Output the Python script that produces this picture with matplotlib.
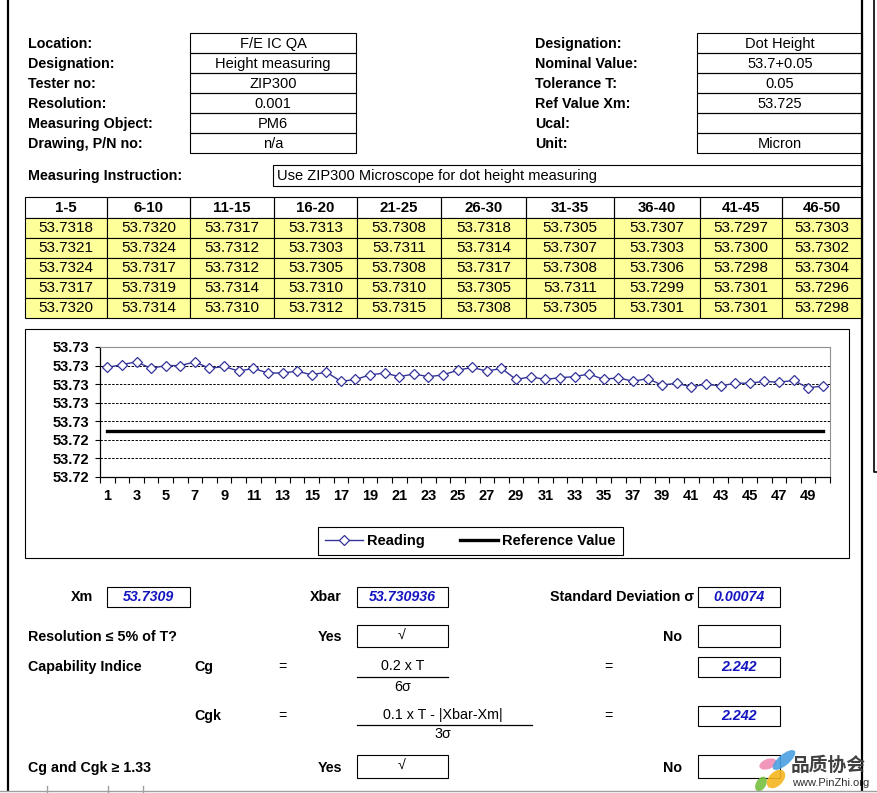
import matplotlib
matplotlib.use("Agg")
import matplotlib.pyplot as plt
from matplotlib.patches import Rectangle, Ellipse
from matplotlib.ticker import FormatStrFormatter, FixedLocator

plt.rcParams['font.family'] = ['Liberation Sans', 'DejaVu Sans']

W, H = 878, 793

# header info
left_labels = ["Location:", "Designation:", "Tester no:", "Resolution:",
               "Measuring Object:", "Drawing, P/N no:"]
left_values = ["F/E IC QA", "Height measuring", "ZIP300", "0.001", "PM6", "n/a"]
right_labels = ["Designation:", "Nominal Value:", "Tolerance T:", "Ref Value Xm:",
                "Ucal:", "Unit:"]
right_values = ["Dot Height", "53.7+0.05", "0.05", "53.725", "", "Micron"]
instruction = "Use ZIP300 Microscope for dot height measuring"

# readings, 10 groups of 5
group_labels = ["1-5", "6-10", "11-15", "16-20", "21-25",
                "26-30", "31-35", "36-40", "41-45", "46-50"]
readings = [
    53.7318, 53.7321, 53.7324, 53.7317, 53.7320,
    53.7320, 53.7324, 53.7317, 53.7319, 53.7314,
    53.7317, 53.7312, 53.7312, 53.7314, 53.7310,
    53.7313, 53.7303, 53.7305, 53.7310, 53.7312,
    53.7308, 53.7311, 53.7308, 53.7310, 53.7315,
    53.7318, 53.7314, 53.7317, 53.7305, 53.7308,
    53.7305, 53.7307, 53.7308, 53.7311, 53.7305,
    53.7307, 53.7303, 53.7306, 53.7299, 53.7301,
    53.7297, 53.7300, 53.7298, 53.7301, 53.7301,
    53.7303, 53.7302, 53.7304, 53.7296, 53.7298,
]
ref_value = 53.725
y_ticks = [53.720, 53.722, 53.724, 53.726, 53.728, 53.730, 53.732, 53.734]

# results
xm = "53.7309"
xbar = "53.730936"
sigma = "0.00074"
cg = "2.242"
cgk = "2.242"

blue = "#1414C0"
yellow = "#FFFF99"

fig = plt.figure(figsize=(W / 100, H / 100), dpi=100)
ax = fig.add_axes([0, 0, 1, 1])
ax.set_xlim(0, W)
ax.set_ylim(H, 0)
ax.axis("off")


def box(x0, y0, x1, y1, fc="none", lw=0.8):
    ax.add_patch(Rectangle((x0, y0), x1 - x0, y1 - y0, fc=fc, ec="black", lw=lw))


def txt(x, y, s, ha="left", bold=False, size=10.3, color="black", italic=False, **kw):
    ax.text(x, y, s, ha=ha, va="center", fontsize=size, color=color,
            fontweight="bold" if bold else "normal",
            fontstyle="italic" if italic else "normal", **kw)


# page frame
ax.plot([8, 8], [0, 790], color="black", lw=1.6)
ax.plot([862.5, 862.5], [0, 790], color="black", lw=1.6)
ax.plot([874, 874, 878], [0, 472, 472], color="black", lw=1.2)
ax.plot([0, 878], [791, 791], color="#a0a0a0", lw=1)
for tx in [47, 108, 143]:
    ax.plot([tx, tx], [786, 793], color="#a0a0a0", lw=1)

# header block
for i in range(6):
    y0 = 33 + 20 * i
    txt(28, y0 + 11, left_labels[i], bold=True)
    box(190, y0, 356, y0 + 20)
    txt(273, y0 + 11, left_values[i], ha="center", size=10.5)
    txt(535, y0 + 11, right_labels[i], bold=True)
    box(697, y0, 862, y0 + 20)
    txt(780, y0 + 11, right_values[i], ha="center", size=10.5)

txt(28, 176, "Measuring Instruction:", bold=True)
box(273, 165, 862, 186)
txt(277, 176, instruction, size=10.5)

# readings table
col_edges = [25, 107, 190, 274, 357, 441, 526, 614, 700, 782, 862]
row_top = 197
for c in range(10):
    x0, x1 = col_edges[c], col_edges[c + 1]
    box(x0, row_top, x1, row_top + 21)
    txt((x0 + x1) / 2, row_top + 11, group_labels[c], ha="center", bold=True, size=10.8)
    for r in range(5):
        y0 = row_top + 21 + 20 * r
        box(x0, y0, x1, y0 + 20, fc=yellow)
        txt((x0 + x1) / 2, y0 + 10.5, "%.4f" % readings[c * 5 + r], ha="center", size=11)

# chart frame
box(25, 329, 849, 558)

cax = fig.add_axes([100 / W, 1 - 477 / H, 730 / W, 130 / H])
xs = list(range(1, len(readings) + 1))
l1, = cax.plot(xs, readings, color="#333399", lw=1, marker="D", ms=4.8,
               mfc="white", mec="#333399", mew=0.9, zorder=3)
l2, = cax.plot(xs, [ref_value] * len(readings), color="black", lw=2.4, zorder=2)
cax.set_xlim(0.5, len(readings) + 0.5)
cax.set_ylim(y_ticks[0], y_ticks[-1])
cax.yaxis.set_major_locator(FixedLocator(y_ticks))
cax.yaxis.set_major_formatter(FormatStrFormatter("%.2f"))
cax.set_xticks(xs[::2])
cax.set_xticks([x + 0.5 for x in range(0, len(readings) + 1)], minor=True)
cax.tick_params(axis="x", which="major", length=0, pad=9, labelsize=10.5)
cax.tick_params(axis="x", which="minor", length=4, direction="out", width=0.8)
cax.tick_params(axis="y", length=3.5, width=0.8, pad=4, labelsize=10.5)
for lab in cax.get_xticklabels() + cax.get_yticklabels():
    lab.set_fontweight("bold")
for t in y_ticks[1:-1]:
    cax.axhline(t, color="black", lw=0.7, ls=(0, (2.5, 1.5)), zorder=1)
cax.spines["top"].set_color("#909090")
cax.spines["right"].set_color("#909090")
cax.spines["left"].set_linewidth(0.9)
cax.spines["bottom"].set_linewidth(0.9)

leg = fig.legend([l1, l2], ["Reading", "Reference Value"], loc="center",
                 bbox_to_anchor=(470.5 / W, 1 - 541 / H), ncol=2, frameon=True,
                 fancybox=False, edgecolor="black", framealpha=1,
                 prop={"weight": "bold", "size": 10.5}, handlelength=2.6,
                 columnspacing=2.4, borderpad=0.5, handletextpad=0.3)
leg.get_frame().set_linewidth(0.8)

# results block
txt(82, 597, "Xm", ha="center", bold=True)
box(107, 587, 190, 607)
txt(148, 597, xm, ha="center", bold=True, italic=True, color=blue)
txt(342, 597, "Xbar", ha="right", bold=True)
box(357, 587, 448, 607)
txt(402, 597, xbar, ha="center", bold=True, italic=True, color=blue)
txt(694, 597, "Standard Deviation σ", ha="right", bold=True)
box(698, 587, 780, 607)
txt(739, 597, sigma, ha="center", bold=True, italic=True, color=blue)

txt(28, 637, "Resolution ≤ 5% of T?", bold=True)
txt(342, 637, "Yes", ha="right", bold=True)
box(357, 625, 448, 647)
txt(402, 636, "√", ha="center")
txt(682, 637, "No", ha="right", bold=True)
box(698, 625, 780, 647)

txt(28, 667, "Capability Indice", bold=True)
txt(194, 667, "Cg", bold=True)
txt(282, 667, "=", ha="center")
txt(403, 666, "0.2 x T", ha="center")
ax.plot([357, 448], [676.5, 676.5], color="black", lw=0.9)
txt(403, 687, "6σ", ha="center")
txt(608, 667, "=", ha="center")
box(698, 657, 780, 677)
txt(739, 667, cg, ha="center", bold=True, italic=True, color=blue)

txt(194, 716, "Cgk", bold=True)
txt(282, 716, "=", ha="center")
txt(443, 715, "0.1 x T - |Xbar-Xm|", ha="center")
ax.plot([357, 532], [724.5, 724.5], color="black", lw=0.9)
txt(443, 734, "3σ", ha="center")
txt(608, 716, "=", ha="center")
box(698, 706, 780, 726)
txt(739, 716, cgk, ha="center", bold=True, italic=True, color=blue)

txt(28, 768, "Cg and Cgk ≥ 1.33", bold=True)
txt(342, 768, "Yes", ha="right", bold=True)
box(357, 755, 448, 778)
txt(402, 766, "√", ha="center")
txt(682, 768, "No", ha="right", bold=True)
box(698, 755, 780, 778)

# watermark
for (ex, ey, w, h, ang, col) in [(768, 764, 18, 10, 20, "#f08cb4"),
                                 (784, 760, 28, 11, 40, "#4aa0e0"),
                                 (776, 779, 22, 14, 45, "#f5b520"),
                                 (761, 784, 16, 10, 60, "#78c040")]:
    ax.add_patch(Ellipse((ex, ey), w, h, angle=-ang, fc=col, ec="none", alpha=0.9))
ax.text(828, 765, "品质协会", ha="center", va="center", fontsize=13.5,
        fontweight="bold", color="#404040", family=["Noto Sans CJK SC"])
ax.text(831, 783, "www.PinZhi.org", ha="center", va="center", fontsize=8,
        color="#303030")

fig.savefig("out.png", dpi=100)
